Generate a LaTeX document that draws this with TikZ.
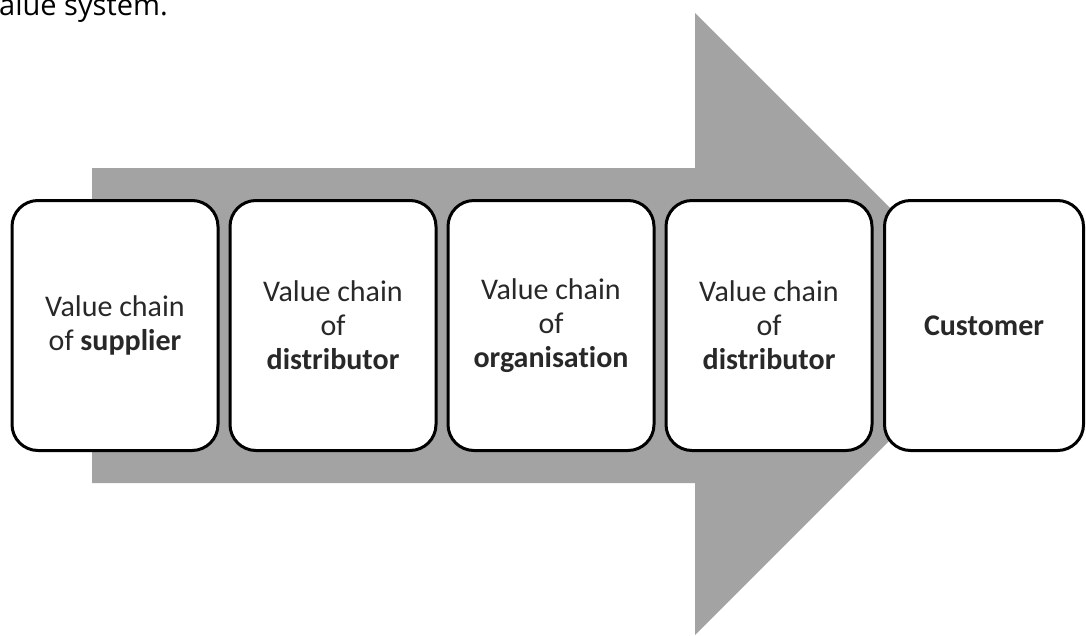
\documentclass[tikz,border=0pt]{standalone}
\usepackage{fontspec}
\setmainfont{Carlito}[Ligatures={NoCommon}]
\newfontfamily\captionfont{Open Sans}
\definecolor{arrowgray}{RGB}{163,163,163}
\definecolor{textdark}{RGB}{40,40,40}
\tikzset{
  chainbox/.style={draw=black, fill=white, line width=3pt, rounded corners=26pt,
    minimum height=250pt, inner sep=0pt, outer sep=0pt, align=center,
    text=textdark, font=\fontsize{30}{34}\selectfont},
  flow/.style={fill=arrowgray, draw=none}
}
\begin{document}
\begin{tikzpicture}[x=1pt, y=-1pt]
  \useasboundingbox (0,0) rectangle (1086,635);
  \clip (0,0) rectangle (1086,635);

  % tail of the caption line above
  \node[anchor=base west, inner sep=0pt, font=\captionfont\fontsize{29}{32}\selectfont, text=black]
    (caption) at (-1,15) {alue system.};

  % broad block arrow behind the chain
  \fill[flow] (92,168) -- (695,168) -- (695,13) -- (1006,324)
              -- (695,635) -- (695,483) -- (92,483) -- cycle;

  % the links of the value system
  \node[chainbox, minimum width=206pt] (supplier) at (115,325.5)
    {Value chain\\of \textbf{supplier}};
  \node[chainbox, minimum width=206pt] (distA) at (333,325.5)
    {Value chain\\of\\\textbf{distributor}};
  \node[chainbox, minimum width=206pt] (org) at (551,325.5)
    {Value chain\\of\\\textbf{organisation}};
  \node[chainbox, minimum width=206pt] (distB) at (769,325.5)
    {Value chain\\of\\\textbf{distributor}};
  \node[chainbox, minimum width=199pt] (customer) at (984,325.5)
    {\textbf{Customer}};
\end{tikzpicture}
\end{document}
